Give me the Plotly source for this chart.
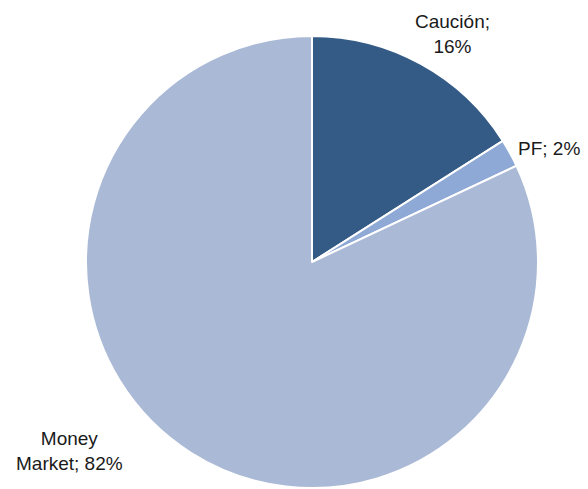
import plotly.graph_objects as go

labels = ["Caución", "PF", "Money Market"]
values = [16, 2, 82]
colors = ["#345A86", "#8EA9D5", "#AAB9D6"]
label_text = ["Caución;<br>16%", "PF; 2%", "Money<br>Market; 82%"]
label_pos = [(452, 34), (549, 149), (69, 451)]

W, H = 588, 489
cx, cy, r = 312, 262, 226

fig = go.Figure(go.Pie(
    labels=labels, values=values, sort=False, direction="clockwise", rotation=0,
    marker=dict(colors=colors, line=dict(color="white", width=2)),
    textinfo="none", hoverinfo="label+percent",
    domain=dict(x=[(cx - r) / W, (cx + r) / W], y=[(H - cy - r) / H, (H - cy + r) / H]),
    showlegend=False,
))

for t, (x, y) in zip(label_text, label_pos):
    fig.add_annotation(x=x / W, y=1 - y / H, xref="paper", yref="paper", text=t,
                       showarrow=False, xanchor="center", yanchor="middle",
                       font=dict(family="Liberation Sans, Arial, sans-serif", size=19, color="#1a1a1a"))

fig.update_layout(width=W, height=H, margin=dict(l=0, r=0, t=0, b=0),
                  paper_bgcolor="white", plot_bgcolor="white")
fig.write_html("out.html", config={"displayModeBar": False},
               post_script="document.body.style.margin='0';document.body.style.overflow='hidden';")
